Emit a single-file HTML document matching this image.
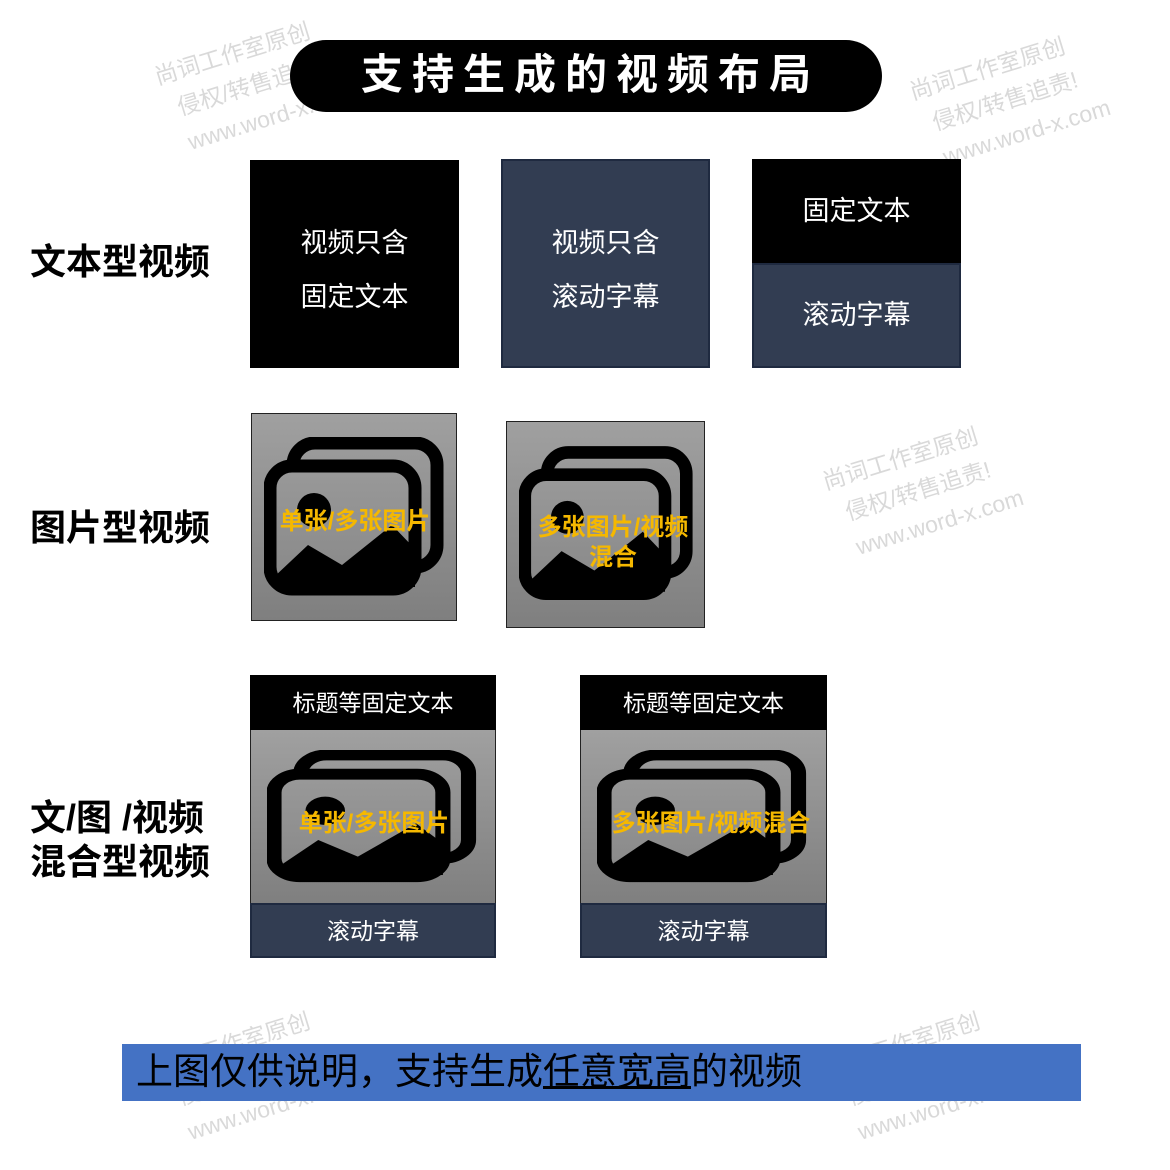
<!DOCTYPE html>
<html><head><meta charset="utf-8"><style>
body{margin:0;width:1170px;height:1170px;background:#fff;position:relative;overflow:hidden;font-family:"Liberation Sans","Noto Sans CJK SC",sans-serif}
.a{position:absolute;box-sizing:border-box}
.lbl{font-weight:bold;font-size:36px;color:#000;letter-spacing:0px;line-height:44px}
.w{color:#fff;font-size:27px;text-align:center}
.navy{background:#323d52;border:2px solid #1f2a40}
.gray{background:linear-gradient(#a0a0a0,#7f7f7f);border:1px solid #222}
.y{color:#f5b800;font-weight:bold;font-size:24px;text-align:center;line-height:30px;white-space:nowrap}
.wm{position:absolute;color:#d9d9d9;font-size:23px;transform:rotate(-17deg);transform-origin:left top;line-height:36px;white-space:nowrap}
</style></head><body>
<div class="wm" style="left:150px;top:60px">尚词工作室原创<br>&nbsp;&nbsp;侵权/转售追责!<br>&nbsp;&nbsp;www.word-x.com</div>
<div class="wm" style="left:905px;top:75px">尚词工作室原创<br>&nbsp;&nbsp;侵权/转售追责!<br>&nbsp;&nbsp;www.word-x.com</div>
<div class="wm" style="left:818px;top:465px">尚词工作室原创<br>&nbsp;&nbsp;侵权/转售追责!<br>&nbsp;&nbsp;www.word-x.com</div>
<div class="wm" style="left:150px;top:1050px">尚词工作室原创<br>&nbsp;&nbsp;侵权/转售追责!<br>&nbsp;&nbsp;www.word-x.com</div>
<div class="wm" style="left:820px;top:1050px">尚词工作室原创<br>&nbsp;&nbsp;侵权/转售追责!<br>&nbsp;&nbsp;www.word-x.com</div>

<div class="a" style="left:290px;top:40px;width:592px;height:72px;background:#000;border-radius:36px;color:#fff;font-weight:bold;font-size:42px;text-align:center;line-height:70px;letter-spacing:9px;padding-left:9px">支持生成的视频布局</div>

<div class="a lbl" style="left:30px;top:240px">文本型视频</div>
<div class="a lbl" style="left:30px;top:506px">图片型视频</div>
<div class="a lbl" style="left:30px;top:796px">文/图 /视频<br>混合型视频</div>

<div class="a w" style="left:250px;top:160px;width:209px;height:208px;background:#000;padding-top:56px;line-height:54px">视频只含<br>固定文本</div>
<div class="a w navy" style="left:501px;top:159px;width:209px;height:209px;padding-top:55px;line-height:54px">视频只含<br>滚动字幕</div>
<div class="a w" style="left:752px;top:159px;width:209px;height:105px;background:#000;line-height:104px">固定文本</div>
<div class="a w navy" style="left:752px;top:263px;width:209px;height:105px;line-height:100px">滚动字幕</div>

<svg width="0" height="0" style="position:absolute"><defs>
<linearGradient id="g" x1="0" y1="0" x2="0" y2="1"><stop offset="0" stop-color="#999"/><stop offset="1" stop-color="#888"/></linearGradient>
<g id="ic">
<rect x="29" y="6" width="144" height="124" rx="22" fill="none" stroke="#000" stroke-width="13"/>
<rect x="6" y="29" width="145" height="123" rx="22" fill="url(#g)" stroke="#000" stroke-width="13"/>
<circle cx="50" cy="73" r="17" fill="#000"/>
<path d="M10 140 L44 108 L78 128 L128 88 L151 112 L151 150 L10 150 Z" fill="#000"/>
</g></defs></svg>

<div class="a gray" style="left:251px;top:413px;width:206px;height:208px">
<svg class="a" style="left:12px;top:23px" width="182" height="162" viewBox="0 0 182 162"><use href="#ic"/></svg>
<div class="a y" style="left:0;top:93px;width:206px">单张/多张图片</div></div>
<div class="a gray" style="left:506px;top:421px;width:199px;height:207px">
<svg class="a" style="left:12px;top:23px" width="176" height="160" viewBox="0 0 182 162"><use href="#ic"/></svg>
<div class="a y" style="left:0;top:91px;width:212px">多张图片/视频<br>混合</div></div>

<div class="a w" style="left:250px;top:675px;width:246px;height:56px;background:#000;font-size:23px;line-height:56px">标题等固定文本</div>
<div class="a gray" style="left:250px;top:730px;width:246px;height:174px;border-width:0 1px">
<svg class="a" style="left:16px;top:20px" width="212" height="135" viewBox="0 0 182 162" preserveAspectRatio="none"><use href="#ic"/></svg>
<div class="a y" style="left:0;top:79px;width:246px">单张/多张图片</div></div>
<div class="a w navy" style="left:250px;top:903px;width:246px;height:55px;font-size:23px;line-height:52px">滚动字幕</div>

<div class="a w" style="left:580px;top:675px;width:247px;height:56px;background:#000;font-size:23px;line-height:56px">标题等固定文本</div>
<div class="a gray" style="left:580px;top:730px;width:247px;height:174px;border-width:0 1px">
<svg class="a" style="left:16px;top:20px" width="212" height="135" viewBox="0 0 182 162" preserveAspectRatio="none"><use href="#ic"/></svg>
<div class="a y" style="left:0;top:79px;width:260px">多张图片/视频混合</div></div>
<div class="a w navy" style="left:580px;top:903px;width:247px;height:55px;font-size:23px;line-height:52px">滚动字幕</div>

<div class="a" style="left:122px;top:1044px;width:959px;height:57px;background:#4472c4;font-size:37px;line-height:55px;padding-left:14px;color:#000">上图仅供说明，支持生成<u>任意宽高</u>的视频</div>
</body></html>
